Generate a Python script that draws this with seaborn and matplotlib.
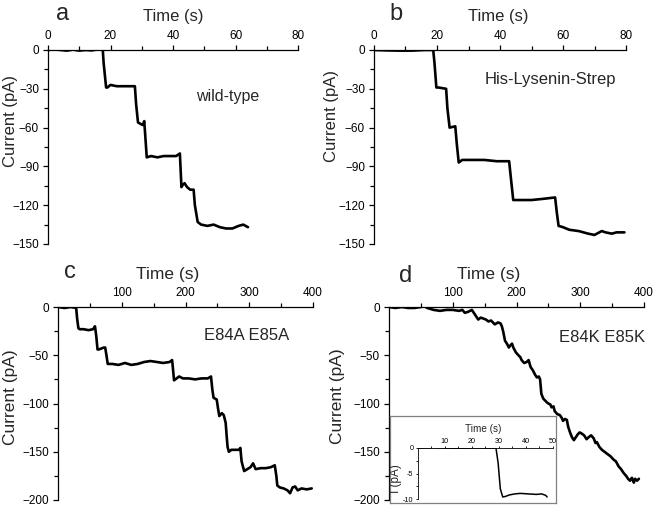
import numpy as np
import seaborn as sns
import matplotlib
matplotlib.use("Agg")
import matplotlib.pyplot as plt
from matplotlib.ticker import FixedLocator

# panel a: wild-type
t_a = [0, 2, 4, 6, 8, 10, 12, 14, 16, 17.5,
       17.8, 18.6, 19.0, 20, 22, 24, 26, 27.8, 28.2, 28.8,
       29.5, 30.3, 30.8, 31.6, 33, 35, 37, 39, 41, 42.2,
       42.7, 43.2, 43.7, 44.5, 45.5, 46.6, 47.0, 47.9, 49, 51,
       53, 55, 57, 59, 61, 62.5, 64]
i_a = [0, 0.5, 0, -0.5, 0.3, -0.5, 0, -0.3, 0.5, 1,
       -10, -29, -29, -27, -28, -28, -28, -28, -42, -56,
       -57, -58, -55, -83, -82, -83, -82, -82, -82, -80,
       -106, -104, -103, -106, -108, -108, -120, -133, -135, -136,
       -135, -137, -138, -138, -136, -135, -137]

# panel b: His-Lysenin-Strep
t_b = [0, 4, 8, 12, 16, 18.8, 19.2, 19.8, 20.5, 22.9,
       23.3, 24.0, 25.8, 26.3, 26.9, 28, 31, 35, 39, 42.9,
       43.5, 44.2, 46, 50, 54, 57.5, 58.0, 58.6, 60, 62,
       65, 68, 70, 72.3, 73.5, 75.5, 77, 79.5]
i_b = [0, -0.3, -0.5, -0.5, 0, 0, -10, -29, -29, -30,
       -45, -60, -59, -73, -87, -85, -85, -85, -86, -86,
       -100, -116, -116, -116, -115, -114, -125, -136, -137, -139,
       -140, -142, -143, -140, -141, -142, -141, -141]

# panel c: E84A E85A
t_c = [0, 10, 20, 28.5, 30, 32, 34, 40, 48, 55,
       58, 60, 62, 64, 68, 72, 74, 76, 78, 85,
       95, 105, 115, 125, 135, 145, 155, 165, 175, 179,
       180.5, 182, 186, 190, 196, 205, 215, 225, 235, 240,
       242, 244, 249, 251, 253, 257, 260, 263, 264.5, 266,
       268, 272, 278, 284, 286, 288, 292, 297, 302, 306,
       310, 318, 326, 334, 340, 342.5, 344, 348, 354, 360,
       364, 368, 372, 376, 382, 390, 398]
i_c = [0, -1, 0, -1, -12, -22, -23, -23, -24, -23,
       -20, -30, -44, -44, -43, -42, -42, -50, -59, -59,
       -60, -58, -60, -59, -57, -56, -57, -58, -57, -55,
       -65, -76, -74, -72, -74, -74, -75, -74, -74, -72,
       -85, -94, -96, -105, -113, -110, -112, -120, -133, -145,
       -150, -148, -148, -148, -146, -160, -170, -168, -166, -162,
       -168, -167, -167, -166, -164, -175, -185, -187, -188, -190,
       -193, -187, -186, -190, -188, -189, -188]

# panel d: E84K E85K
t_d = [0, 10, 20, 30, 40, 50, 55, 60, 70, 80,
       90, 100, 110, 115, 119, 124, 130, 135, 140, 144,
       148, 152, 156, 160, 166, 171, 175, 177, 179, 182,
       185, 188, 190, 193, 195, 199, 203, 206, 208, 212,
       216, 219, 222, 226, 229, 232, 235, 237, 239, 242,
       245, 248, 250, 253, 255, 258, 260, 264, 268, 271,
       273, 276, 279, 281, 284, 287, 290, 292, 296, 299,
       302, 306, 310, 313, 317, 321, 324, 326, 330, 334,
       338, 344, 348, 352, 356, 360, 364, 368, 372, 375,
       378, 381, 384, 386, 389, 392]
i_d = [0, -1, 0, -1, -1, 0, 1, -1, -3, -4,
       -3, -3, -4, -3, -6, -5, -3, -8, -13, -11,
       -12, -13, -15, -14, -18, -16, -17, -20, -25, -35,
       -38, -42, -40, -38, -42, -47, -50, -52, -55, -58,
       -57, -55, -62, -66, -70, -73, -72, -75, -90, -95,
       -97, -99, -100, -101, -104, -103, -108, -111, -112, -115,
       -118, -116, -117, -124, -130, -135, -138, -136, -132, -130,
       -131, -133, -137, -135, -133, -136, -141, -140, -145, -148,
       -150, -153, -155, -158, -160, -165, -168, -172, -175, -178,
       -180, -177, -182, -178, -180, -178]

# inset of panel d: single insertion
t_in = [0, 3, 6, 10, 14, 18, 22, 26, 29, 29.8,
        30.6, 31.5, 32.5, 34, 36, 38, 41, 44, 46, 47.5, 48]
i_in = [0, 0.05, 0.1, 0, -0.05, 0, 0.05, 0, -0.05, -3,
        -8, -9.6, -9.5, -9.2, -9.0, -8.9, -9.0, -9.1, -9.0, -9.3, -9.6]

sns.set_style("ticks")
plt.rcParams['font.family'] = ['Liberation Sans', 'DejaVu Sans']

W, H = 656, 508
fig = plt.figure(figsize=(W / 100, H / 100), dpi=100)


def px_axes(l, r, t, b):
    return fig.add_axes([l / W, 1 - b / H, (r - l) / W, (b - t) / H])


def style(ax, xlim, ylim, xmaj, xmin, ymaj, ymin, tsize=8.5, lw=0.9):
    ax.set_xlim(*xlim)
    ax.set_ylim(*ylim)
    ax.xaxis.set_major_locator(FixedLocator(xmaj))
    ax.xaxis.set_minor_locator(FixedLocator(xmin))
    ax.yaxis.set_major_locator(FixedLocator(ymaj))
    ax.yaxis.set_minor_locator(FixedLocator(ymin))
    ax.xaxis.tick_top()
    ax.xaxis.set_label_position('top')
    ax.spines['right'].set_visible(False)
    ax.spines['bottom'].set_visible(False)
    for s in ['top', 'left']:
        ax.spines[s].set_linewidth(lw)
        ax.spines[s].set_color('black')
    ax.tick_params(axis='both', which='both', direction='out', width=lw,
                   colors='black', labelsize=tsize)
    ax.tick_params(axis='x', which='both', top=True, bottom=False,
                   labeltop=True, labelbottom=False, pad=2)
    ax.tick_params(axis='y', pad=3)
    ax.tick_params(which='major', length=3.5)
    ax.tick_params(which='minor', length=3)
    ax.set_facecolor('white')


panels = [
    (px_axes(48, 298, 50, 244), t_a, i_a, (0, 80), (-150, 0),
     [0, 20, 40, 60, 80], [10, 30, 50, 70], list(range(0, -151, -30)), list(range(-15, -150, -30))),
    (px_axes(374, 626, 50, 244), t_b, i_b, (0, 80), (-150, 0),
     [0, 20, 40, 60, 80], [10, 30, 50, 70], list(range(0, -151, -30)), list(range(-15, -150, -30))),
    (px_axes(58, 313, 307, 500), t_c, i_c, (0, 400), (-200, 0),
     [100, 200, 300, 400], [50, 150, 250, 350], list(range(0, -201, -50)), list(range(-25, -200, -50))),
    (px_axes(389, 644, 307, 500), t_d, i_d, (0, 400), (-200, 0),
     [100, 200, 300, 400], [50, 150, 250, 350], list(range(0, -201, -50)), list(range(-25, -200, -50))),
]

xlab_x = [0.5, 0.492, 0.431, 0.392]
ylab = [(-0.12, 0.634, 12), (-0.14, 0.66, 12), (-0.158, 0.534, 12.5), (-0.172, 0.537, 12.5)]
xlab_size = [12, 12, 12.5, 12.5]

for k, (ax, t, cur, xl, yl, xmaj, xmin, ymaj, ymin) in enumerate(panels):
    sns.lineplot(x=t, y=cur, ax=ax, color='black', linewidth=1.9, estimator=None, sort=False)
    style(ax, xl, yl, xmaj, xmin, ymaj, ymin)
    ax.set_xlabel('Time (s)', fontsize=xlab_size[k])
    ax.xaxis.set_label_coords(xlab_x[k], 1.147)
    ax.set_ylabel('Current (pA)', fontsize=ylab[k][2])
    ax.yaxis.set_label_coords(ylab[k][0], ylab[k][1])

# inset frame and inset plot
frame = px_axes(390, 556, 416, 503)
frame.set_xticks([])
frame.set_yticks([])
frame.set_facecolor('white')
for s in frame.spines.values():
    s.set_color('#808080')
    s.set_linewidth(0.9)

ins = px_axes(418, 552.5, 448, 499)
ins.patch.set_alpha(0)
sns.lineplot(x=t_in, y=i_in, ax=ins, color='black', linewidth=1.1, estimator=None, sort=False)
style(ins, (0, 50), (-10, 0), [10, 20, 30, 40, 50], [5, 15, 25, 35, 45],
      [0, -5, -10], [-2.5, -7.5], tsize=5.2, lw=0.6)
ins.tick_params(which='major', length=1.8)
ins.tick_params(which='minor', length=1.4)
ins.tick_params(axis='x', pad=0.5)
ins.tick_params(axis='y', pad=1.5)
ins.set_xlabel('Time (s)', fontsize=7.2)
ins.xaxis.set_label_coords(0.483, 1.31)
ins.set_ylabel('I (pA)', fontsize=8.5)
ins.yaxis.set_label_coords(-0.12, 0.41)
ins.set_yticklabels(['0', '-5', '-10'])

# annotations
fig.text(228 / W, 1 - 97 / H, 'wild-type', fontsize=11.5, ha='center', va='center')
fig.text(550 / W, 1 - 80 / H, 'His-Lysenin-Strep', fontsize=12, ha='center', va='center')
fig.text(247 / W, 1 - 335 / H, 'E84A E85A', fontsize=12, ha='center', va='center')
fig.text(602 / W, 1 - 337 / H, 'E84K E85K', fontsize=12, ha='center', va='center')

for letter, x, y in [('a', 63, 20), ('b', 396, 20), ('c', 70, 278), ('d', 406, 282)]:
    fig.text(x / W, 1 - y / H, letter, fontsize=17, ha='center', va='baseline')

fig.savefig('out.png', dpi=100, facecolor='white')
